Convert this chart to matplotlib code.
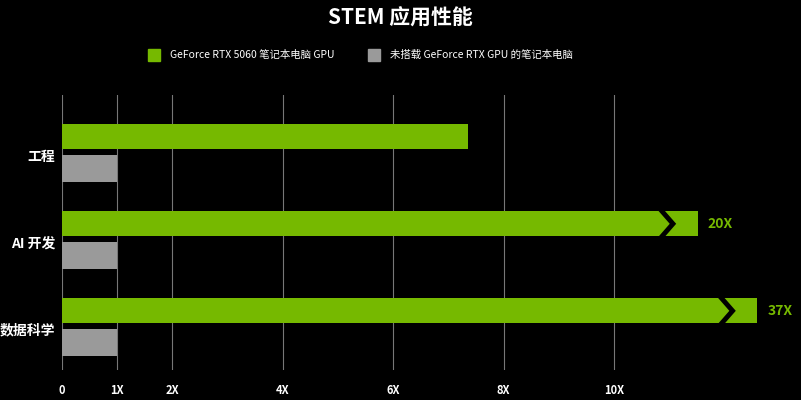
import matplotlib
matplotlib.use("Agg")
import matplotlib.pyplot as plt
from matplotlib.patches import Rectangle

plt.rcParams['font.family'] = ['Noto Sans CJK SC', 'DejaVu Sans']

categories = ["工程", "AI 开发", "数据科学"]
rtx_values = [7.35, 20, 37]          # speedup vs. no-GPU laptop
base_values = [1, 1, 1]
axis_cap = 10                        # values above this are drawn with a break
break_len = [None, 11.52, 12.6]      # drawn length for broken bars
xticks = [0, 1, 2, 4, 6, 8, 10]
xtick_labels = ["0", "1X", "2X", "4X", "6X", "8X", "10X"]

GREEN = "#76b900"
GREY = "#9a9a9a"

fig = plt.figure(figsize=(8.01, 4.0), dpi=100, facecolor="black")
ax = fig.add_axes([62 / 801, 30 / 400, (785 - 62) / 801, 275 / 400])
ax.set_facecolor("black")
ax.set_xlim(0, 13.1)
ax.set_ylim(2.52, -0.64)

for x in xticks:
    ax.axvline(x, color="#777777", lw=0.8, zorder=0)

for i, (cat, v, b) in enumerate(zip(categories, rtx_values, base_values)):
    length = v if v <= axis_cap else break_len[i]
    ax.barh(i - 0.16, length, height=0.29, color=GREEN, zorder=2)
    ax.barh(i + 0.20, b, height=0.31, color=GREY, zorder=2)
    if v > axis_cap:
        cx = length - 0.45
        ax.plot([cx - 0.2, cx, cx - 0.2], [i - 0.16 - 0.145, i - 0.16, i - 0.16 + 0.145],
                color="black", lw=3.5, zorder=3, solid_joinstyle="miter")
        ax.text(length + 0.18, i - 0.16, f"{v}X", color=GREEN, fontsize=10,
                fontweight="bold", va="center", ha="left")
    ax.text(-0.12, i + 0.07, cat, color="white", fontsize=10, fontweight="bold",
            va="center", ha="right", transform=ax.transData, clip_on=False)

ax.set_xticks(xticks)
ax.set_xticklabels(xtick_labels, color="white", fontsize=8, fontweight="bold")
ax.tick_params(axis="x", length=0, pad=10)
ax.set_yticks([])
for s in ax.spines.values():
    s.set_visible(False)

fig.text(0.5, 0.955, "STEM 应用性能", color="white", fontsize=15, fontweight="bold",
         ha="center", va="center")

fig.patches.append(Rectangle((148 / 801, 1 - 61 / 400), 12 / 801, 12 / 400,
                             color=GREEN, transform=fig.transFigure))
fig.text(170 / 801, 1 - 55 / 400, "GeForce RTX 5060 笔记本电脑 GPU", color="white",
         fontsize=7.5, va="center")
fig.patches.append(Rectangle((368 / 801, 1 - 61 / 400), 12 / 801, 12 / 400,
                             color=GREY, transform=fig.transFigure))
fig.text(390 / 801, 1 - 55 / 400, "未搭载 GeForce RTX GPU 的笔记本电脑", color="white",
         fontsize=7.5, va="center")

fig.savefig("out.png", dpi=100, facecolor="black")
